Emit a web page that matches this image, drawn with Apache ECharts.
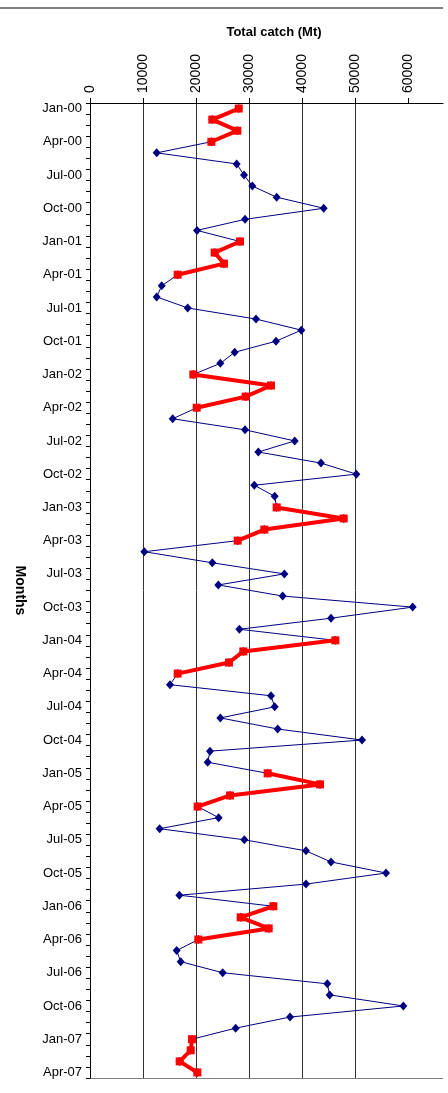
<!DOCTYPE html>
<html>
<head>
<meta charset="utf-8">
<script src="https://cdn.jsdelivr.net/npm/echarts@6/dist/echarts.min.js"></script>
<style>
html,body{margin:0;padding:0;background:#fff;}
#chart{width:448px;height:1093px;}
</style>
</head>
<body>
<div id="chart"></div>
<script>
const months = [
 'Jan-00','Feb-00','Mar-00','Apr-00','May-00','Jun-00','Jul-00','Aug-00','Sep-00','Oct-00','Nov-00','Dec-00',
 'Jan-01','Feb-01','Mar-01','Apr-01','May-01','Jun-01','Jul-01','Aug-01','Sep-01','Oct-01','Nov-01','Dec-01',
 'Jan-02','Feb-02','Mar-02','Apr-02','May-02','Jun-02','Jul-02','Aug-02','Sep-02','Oct-02','Nov-02','Dec-02',
 'Jan-03','Feb-03','Mar-03','Apr-03','May-03','Jun-03','Jul-03','Aug-03','Sep-03','Oct-03','Nov-03','Dec-03',
 'Jan-04','Feb-04','Mar-04','Apr-04','May-04','Jun-04','Jul-04','Aug-04','Sep-04','Oct-04','Nov-04','Dec-04',
 'Jan-05','Feb-05','Mar-05','Apr-05','May-05','Jun-05','Jul-05','Aug-05','Sep-05','Oct-05','Nov-05','Dec-05',
 'Jan-06','Feb-06','Mar-06','Apr-06','May-06','Jun-06','Jul-06','Aug-06','Sep-06','Oct-06','Nov-06','Dec-06',
 'Jan-07','Feb-07','Mar-07','Apr-07'
];
const totalCatch = [
 28060, 23080, 27800, 22900, 12580, 27670, 29060, 30630, 35220, 44090, 29250, 20190,
 28300, 23520, 25280, 16540, 13530, 12580, 18430, 31320, 39870, 35090, 27300, 24590,
 19500, 34150, 29370, 20130, 15600, 29250, 38620, 31760, 43580, 50250, 31000, 34840,
 35220, 47860, 32890, 27860, 10250, 23080, 36670, 24210, 36350, 60880, 45470, 28180,
 46290, 28930, 26230, 16540, 15090, 34150, 34840, 24590, 35410, 51320, 22640, 22200,
 33520, 43400, 26420, 20310, 24270, 13140, 29120, 40750, 45470, 55850, 40750, 16860,
 34590, 28430, 33710, 20440, 16350, 17110, 25030, 44780, 45220, 59120, 37740, 27480,
 19250, 19000, 16920, 20250
];
const seasonMonths = ['Jan','Feb','Mar','Apr'];
const xTicks = [0, 10000, 20000, 30000, 40000, 50000, 60000];

const seasonCatch = totalCatch.map((v, i) =>
  seasonMonths.indexOf(months[i].slice(0, 3)) >= 0 ? v : null);

const FONT = '"Liberation Sans", Arial, sans-serif';
const chart = echarts.init(document.getElementById('chart'), null, {renderer: 'canvas'});
chart.setOption({
  animation: false,
  backgroundColor: '#fff',
  grid: {left: 90, top: 103, width: 353, height: 975, containLabel: false},
  xAxis: {
    type: 'value',
    position: 'top',
    min: 0, max: 66600, interval: 10000,
    axisLine: {show: true, lineStyle: {color: '#000', width: 1}},
    axisTick: {show: true, length: 5, inside: false, customValues: xTicks, lineStyle: {color: '#000'}},
    axisLabel: {
      customValues: xTicks,
      formatter: function (v) { return String(v); },
      rotate: -90, margin: 10,
      fontFamily: FONT, fontSize: 14, color: '#000'
    },
    splitLine: {show: true, showMaxLine: false, lineStyle: {color: '#333', width: 1}}
  },
  yAxis: {
    type: 'category',
    inverse: true,
    data: months,
    boundaryGap: true,
    name: 'Months',
    nameLocation: 'middle',
    nameRotate: -90,
    nameGap: 63,
    nameTextStyle: {fontFamily: FONT, fontSize: 14, fontWeight: 'bold', color: '#000'},
    axisLine: {show: true, lineStyle: {color: '#000', width: 1}},
    axisTick: {show: true, interval: 0, length: 4, inside: false, lineStyle: {color: '#000'}},
    axisLabel: {interval: 2, margin: 8, fontFamily: FONT, fontSize: 13, color: '#000'},
    splitLine: {show: false}
  },
  graphic: [
    {type: 'line', shape: {x1: 0, y1: 8, x2: 443, y2: 8}, style: {stroke: '#000', lineWidth: 1}},
    {type: 'line', shape: {x1: 90, y1: 1078.5, x2: 443, y2: 1078.5}, style: {stroke: '#808080', lineWidth: 1}},
    {type: 'text', x: 274, y: 32, style: {text: 'Total catch (Mt)', font: 'bold 13px ' + FONT, fill: '#000', textAlign: 'center', textVerticalAlign: 'middle'}}
  ],
  series: [
    {
      type: 'line',
      data: totalCatch,
      showSymbol: true,
      showAllSymbol: true,
      symbol: 'diamond',
      symbolSize: [8, 9],
      lineStyle: {color: '#000080', width: 1},
      itemStyle: {color: '#000080'},
      z: 2
    },
    {
      type: 'line',
      data: seasonCatch,
      showSymbol: true,
      showAllSymbol: true,
      connectNulls: false,
      symbol: 'rect',
      symbolSize: 8,
      lineStyle: {color: '#ff0000', width: 4},
      itemStyle: {color: '#ff0000'},
      z: 3
    }
  ]
});
</script>
</body>
</html>
